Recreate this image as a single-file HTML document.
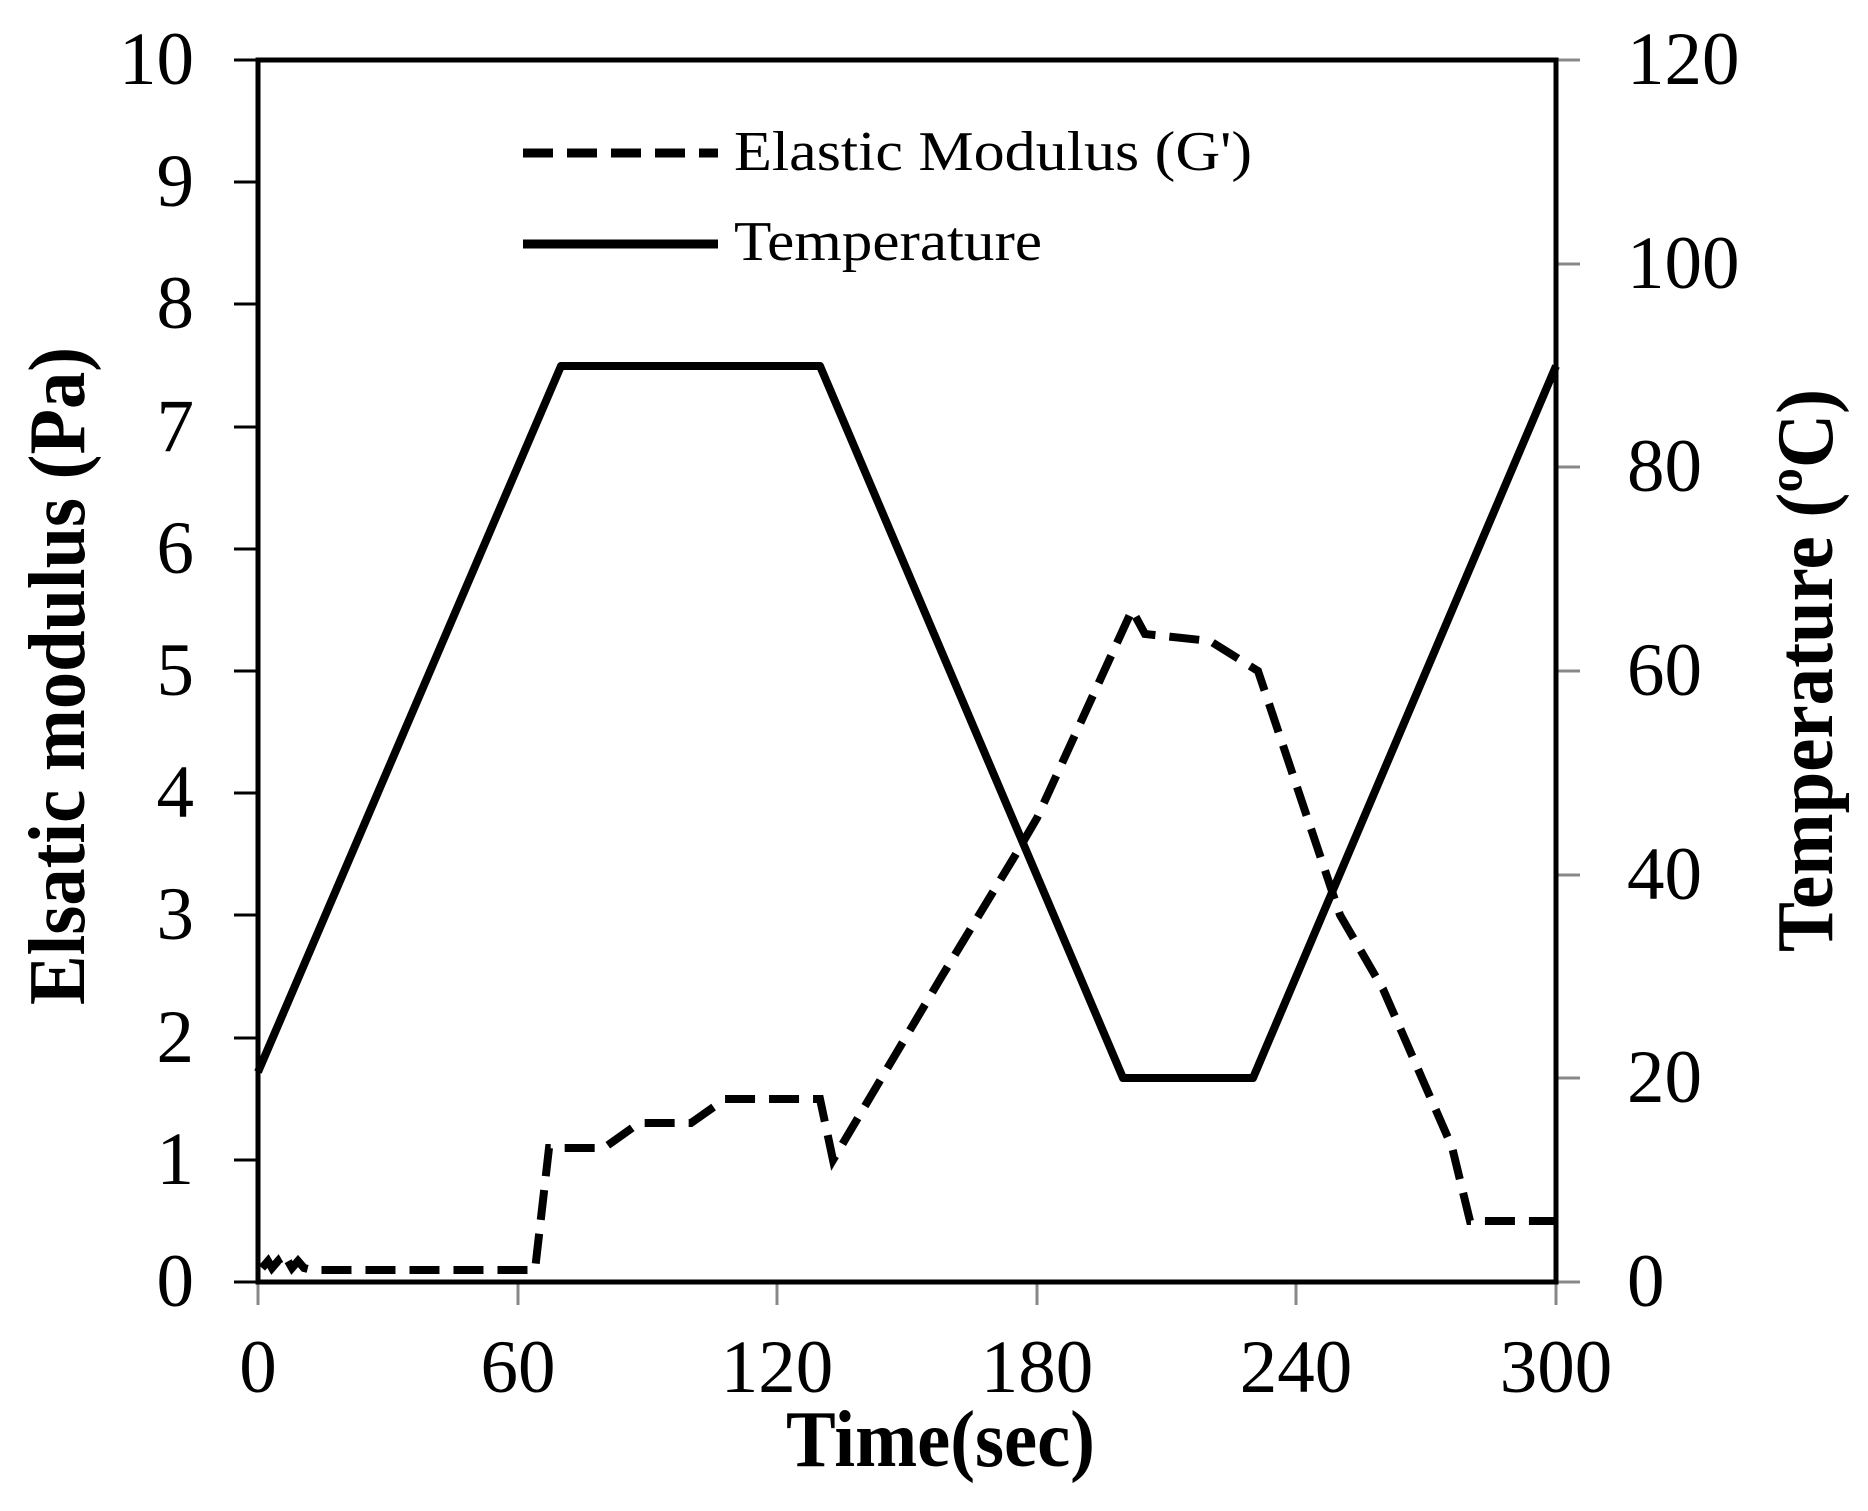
<!DOCTYPE html>
<html><head><meta charset="utf-8"><style>
html,body{margin:0;padding:0;background:#fff;}
svg{display:block;}
text{font-family:"Liberation Serif",serif;fill:#000;}
</style></head><body>
<svg width="1868" height="1511" viewBox="0 0 1868 1511" xmlns="http://www.w3.org/2000/svg">
<g stroke="#000" stroke-width="3">
<line x1="234" y1="60" x2="258" y2="60"/><line x1="234" y1="182" x2="258" y2="182"/><line x1="234" y1="304" x2="258" y2="304"/><line x1="234" y1="427" x2="258" y2="427"/><line x1="234" y1="549" x2="258" y2="549"/><line x1="234" y1="671" x2="258" y2="671"/><line x1="234" y1="793" x2="258" y2="793"/><line x1="234" y1="915" x2="258" y2="915"/><line x1="234" y1="1038" x2="258" y2="1038"/><line x1="234" y1="1160" x2="258" y2="1160"/><line x1="234" y1="1282" x2="258" y2="1282"/>
</g>
<g stroke="#888" stroke-width="3">
<line x1="1556" y1="60" x2="1580" y2="60"/><line x1="1556" y1="264" x2="1580" y2="264"/><line x1="1556" y1="467" x2="1580" y2="467"/><line x1="1556" y1="671" x2="1580" y2="671"/><line x1="1556" y1="875" x2="1580" y2="875"/><line x1="1556" y1="1078" x2="1580" y2="1078"/><line x1="1556" y1="1282" x2="1580" y2="1282"/>
<line x1="258" y1="1282" x2="258" y2="1305"/><line x1="518" y1="1282" x2="518" y2="1305"/><line x1="777" y1="1282" x2="777" y2="1305"/><line x1="1037" y1="1282" x2="1037" y2="1305"/><line x1="1296" y1="1282" x2="1296" y2="1305"/><line x1="1556" y1="1282" x2="1556" y2="1305"/>
</g>
<rect x="258" y="60" width="1298" height="1222" fill="none" stroke="#000" stroke-width="5"/>
<g font-size="75" text-anchor="end">
<text x="194" y="84">10</text><text x="194" y="206">9</text><text x="194" y="328">8</text><text x="194" y="451">7</text><text x="194" y="573">6</text><text x="194" y="695">5</text><text x="194" y="817">4</text><text x="194" y="939">3</text><text x="194" y="1062">2</text><text x="194" y="1184">1</text><text x="194" y="1306">0</text>
</g>
<g font-size="75">
<text x="1627" y="84">120</text><text x="1627" y="288">100</text><text x="1627" y="491">80</text><text x="1627" y="695">60</text><text x="1627" y="899">40</text><text x="1627" y="1102">20</text><text x="1627" y="1306">0</text>
</g>
<g font-size="75" text-anchor="middle">
<text x="258" y="1392">0</text><text x="518" y="1392">60</text><text x="777" y="1392">120</text><text x="1037" y="1392">180</text><text x="1296" y="1392">240</text><text x="1556" y="1392">300</text>
</g>
<text x="786" y="1466" font-size="80" font-weight="bold" textLength="309" lengthAdjust="spacingAndGlyphs">Time(sec)</text>
<text transform="translate(84,1005) rotate(-90)" font-size="80" font-weight="bold" textLength="658" lengthAdjust="spacingAndGlyphs">Elsatic modulus (Pa)</text>
<text transform="translate(1832,952) rotate(-90)" font-size="80" font-weight="bold" textLength="563" lengthAdjust="spacingAndGlyphs">Temperature (ºC)</text>
<line x1="523" y1="153" x2="718" y2="153" stroke="#000" stroke-width="9" stroke-dasharray="30,14"/>
<line x1="523" y1="244" x2="718" y2="244" stroke="#000" stroke-width="9"/>
<text x="734" y="170" font-size="56" textLength="518" lengthAdjust="spacingAndGlyphs">Elastic Modulus (G')</text>
<text x="734" y="260" font-size="56" textLength="308" lengthAdjust="spacingAndGlyphs">Temperature</text>
<polyline fill="none" stroke="#000" stroke-width="8" stroke-linejoin="round" points="258,1072 561,366 820,366 1123,1078 1253,1078 1556,366"/>
<polyline fill="none" stroke="#000" stroke-width="8" stroke-dasharray="30,14" points="262,1268 268,1261 272,1268 278,1261 282,1268 288,1261 292,1268 298,1261 304,1268 312,1270 535,1270 549,1148 604,1148 639,1123 691,1123 725,1099 820,1099 833,1160 942,976 1016,854 1037,818 1132,610 1145,634 1210,641 1258,671 1340,915 1383,989 1452,1147 1470,1221 1556,1221"/>
</svg>
</body></html>
